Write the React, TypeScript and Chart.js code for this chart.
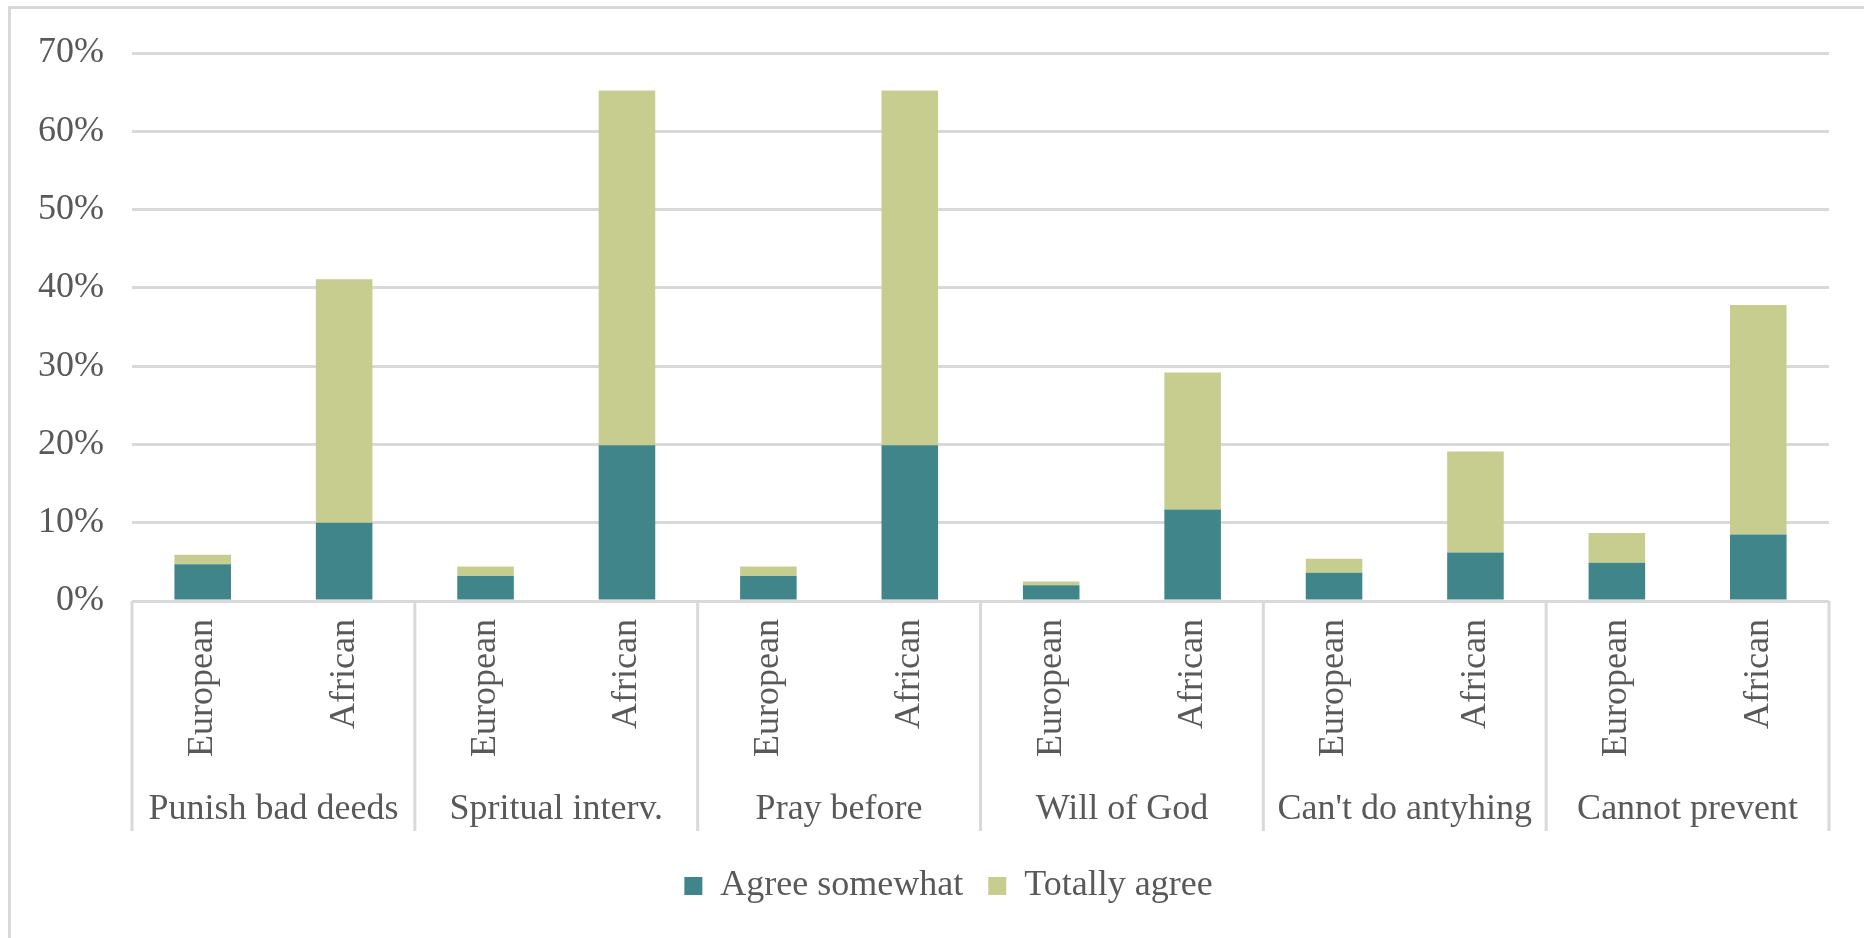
import React, { useEffect, useRef } from 'react';
import { Chart, registerables } from 'chart.js';

Chart.register(...registerables);

const groups = ['Punish bad deeds', 'Spritual interv.', 'Pray before', 'Will of God', "Can't do antyhing", 'Cannot prevent'];
const regions = ['European', 'African'];
const agreeSomewhat = [4.7, 10.0, 3.2, 19.9, 3.2, 19.9, 2.0, 11.7, 3.6, 6.2, 4.9, 8.5];
const totallyAgree = [1.2, 31.1, 1.2, 45.3, 1.2, 45.3, 0.5, 17.5, 1.8, 12.9, 3.8, 29.3];
const seriesNames = ['Agree somewhat', 'Totally agree'];
const yMax = 70;
const yStep = 10;

const TEAL = '#40858A';
const OLIVE = '#C7CD8F';
const TEXT = '#595959';
const GRID = '#D9D9D9';
const FONT = "'Liberation Serif', 'Times New Roman', serif";

const groupAxisPlugin = {
  id: 'groupAxis',
  afterLayout(chart: any) {
    // nudge the centred legend to sit where the original's does
    if (chart.legend) {
      chart.legend.left += 15;
      chart.legend.right += 15;
    }
  },
  afterDraw(chart: any) {
    const xs = chart.scales.x;
    const ctx = chart.ctx;
    const n = xs.getLabels().length;
    const step = (xs.right - xs.left) / n;
    const top = chart.chartArea.bottom;
    const bottom = top + 230;
    ctx.save();
    ctx.strokeStyle = GRID;
    ctx.lineWidth = 3;
    for (let g = 0; g <= groups.length; g++) {
      const x = xs.left + g * regions.length * step;
      ctx.beginPath();
      ctx.moveTo(x, top);
      ctx.lineTo(x, bottom);
      ctx.stroke();
    }
    ctx.fillStyle = TEXT;
    ctx.font = `36px ${FONT}`;
    ctx.textAlign = 'center';
    ctx.textBaseline = 'middle';
    groups.forEach((name, g) => {
      const cx = xs.left + (g * regions.length + regions.length / 2) * step;
      ctx.fillText(name, cx, top + 209);
    });
    ctx.restore();
  },
};

export default function App() {
  const ref = useRef<HTMLCanvasElement | null>(null);

  useEffect(() => {
    if (!ref.current) return;
    const labels = groups.flatMap(() => regions);
    const chart = new Chart(ref.current, {
      type: 'bar',
      data: {
        labels,
        datasets: [
          {
            label: seriesNames[0],
            data: agreeSomewhat,
            backgroundColor: TEAL,
            barPercentage: 0.4,
            categoryPercentage: 1.0,
          },
          {
            label: seriesNames[1],
            data: totallyAgree,
            backgroundColor: OLIVE,
            barPercentage: 0.4,
            categoryPercentage: 1.0,
          },
        ],
      },
      options: {
        responsive: false,
        animation: false,
        devicePixelRatio: 1,
        layout: { padding: { left: 27, right: 35, top: 44, bottom: 24 } },
        plugins: {
          tooltip: { enabled: false },
          legend: {
            position: 'bottom',
            labels: {
              boxWidth: 18,
              boxHeight: 18,
              padding: 25,
              color: TEXT,
              font: { family: FONT, size: 36 },
            },
          },
        },
        scales: {
          x: {
            stacked: true,
            grid: { display: false },
            border: { display: false },
            ticks: {
              minRotation: 90,
              maxRotation: 90,
              autoSkip: false,
              padding: 10,
              color: TEXT,
              font: { family: FONT, size: 36 },
            },
            afterFit: (scale: any) => {
              scale.height = 242;
            },
          },
          y: {
            stacked: true,
            min: 0,
            max: yMax,
            grid: { color: GRID, lineWidth: 3, drawTicks: false },
            border: { display: false },
            ticks: {
              stepSize: yStep,
              padding: 28,
              color: TEXT,
              font: { family: FONT, size: 36 },
              callback: (v: any) => `${v}%`,
            },
            afterFit: (scale: any) => {
              scale.width = 94;
              scale.paddingTop = 0;
              scale.paddingBottom = 0;
            },
          },
        },
      },
      plugins: [groupAxisPlugin],
    });
    return () => chart.destroy();
  }, []);

  return (
    <div
      style={{
        position: 'absolute',
        left: 8,
        top: 6,
        width: 1856,
        height: 932,
        boxSizing: 'border-box',
        borderTop: '3px solid #D9D9D9',
        borderLeft: '3px solid #D9D9D9',
        overflow: 'hidden',
        background: '#fff',
      }}
    >
      <canvas ref={ref} width={1853} height={929} style={{ display: 'block' }} />
    </div>
  );
}
